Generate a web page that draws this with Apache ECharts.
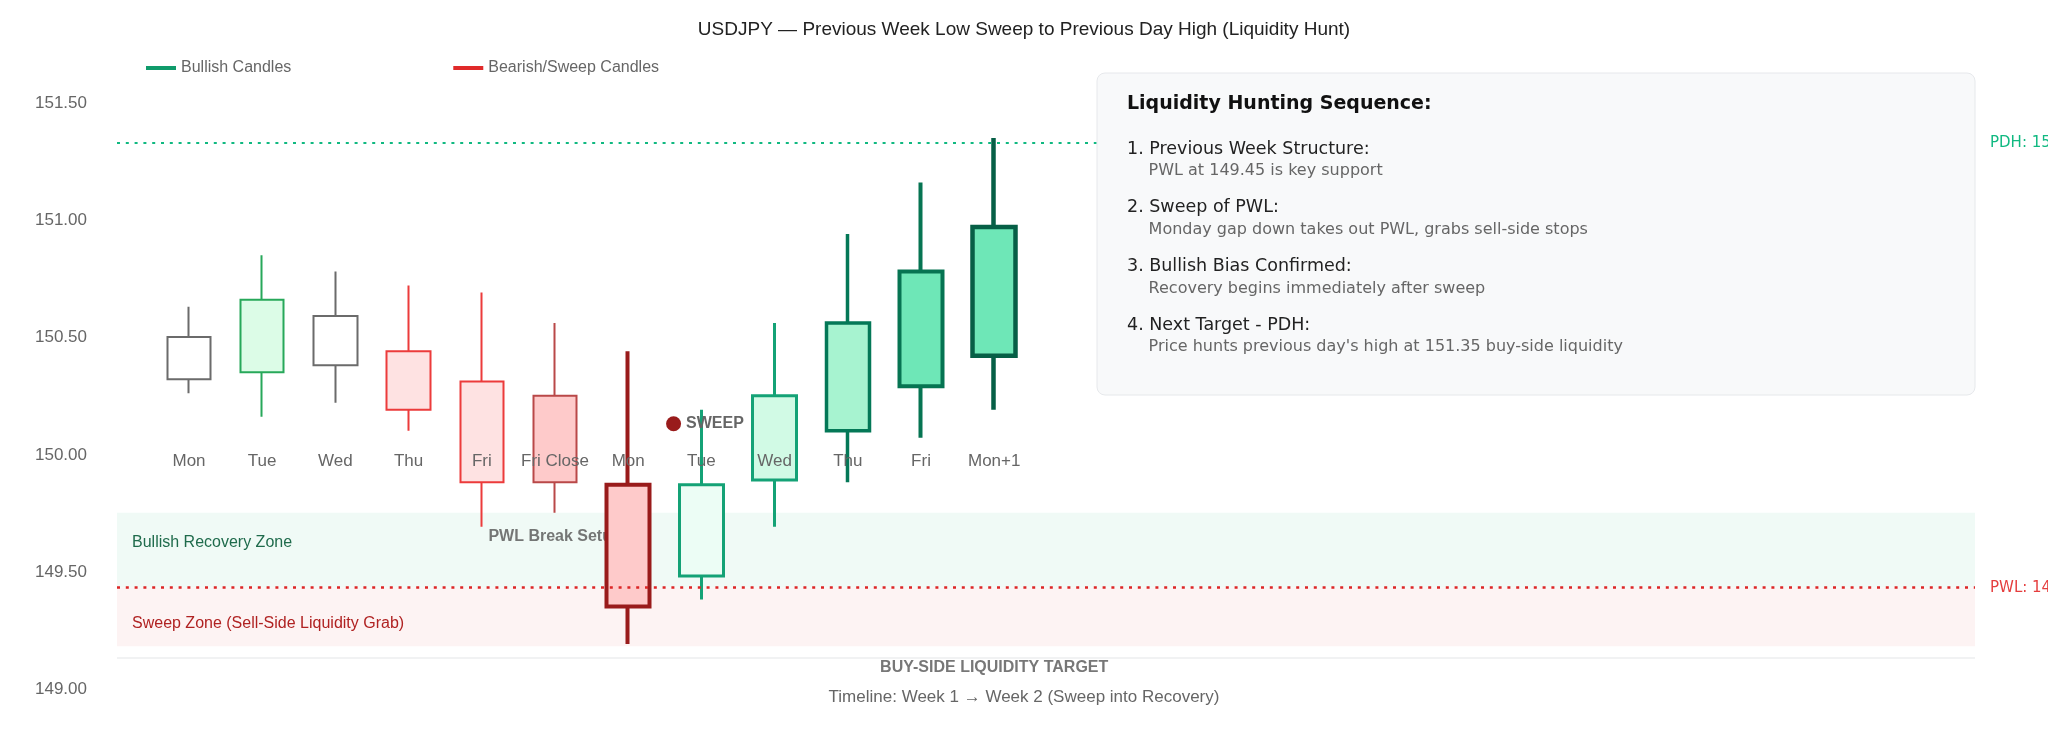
<!DOCTYPE html>
<html>
<head>
<meta charset="utf-8">
<title>USDJPY liquidity hunt</title>
<script src="https://cdn.jsdelivr.net/npm/echarts@6/dist/echarts.min.js"></script>
<style>
  html, body { margin: 0; padding: 0; background: #fff; }
  #chart { width: 2048px; height: 731px; }
</style>
</head>
<body>
<div id="chart"></div>
<script>
// candles
var categories = ['Mon', 'Tue', 'Wed', 'Thu', 'Fri', 'Fri Close', 'Mon', 'Tue', 'Wed', 'Thu', 'Fri', 'Mon+1'];
var opens  = [150.34, 150.37, 150.40, 150.46, 150.33, 150.27, 149.89, 149.50, 149.91, 150.12, 150.31, 150.44];
var closes = [150.52, 150.68, 150.61, 150.21, 149.90, 149.90, 149.37, 149.89, 150.27, 150.58, 150.80, 150.99];
var lows   = [150.28, 150.18, 150.24, 150.12, 149.71, 149.77, 149.21, 149.40, 149.71, 149.90, 150.09, 150.21];
var highs  = [150.65, 150.87, 150.80, 150.74, 150.71, 150.58, 150.46, 150.21, 150.58, 150.96, 151.18, 151.37];
// which group each candle belongs to
var groups = ['neutral', 'bull', 'neutral', 'bear', 'bear', 'bear', 'bear', 'bull', 'bull', 'bull', 'bull', 'bull'];

var yTicks = [149.0, 151.5];
var pdh = 151.35;
var pwl = 149.45;
var recoveryZone = [149.45, 149.77];
var sweepZone = [149.20, 149.45];
var baseLine = 149.15;

// annotations: [x (category index), price, text]
var sweepPoint = [6.62, 150.15, 'SWEEP'];
var notes = [
  [4.09, 149.67, 'PWL Break Setup'],
  [11, 149.11, 'BUY-SIDE LIQUIDITY TARGET']
];

var steps = [
  ['1. Previous Week Structure:', 'PWL at 149.45 is key support'],
  ['2. Sweep of PWL:', 'Monday gap down takes out PWL, grabs sell-side stops'],
  ['3. Bullish Bias Confirmed:', 'Recovery begins immediately after sweep'],
  ['4. Next Target - PDH:', "Price hunts previous day's high at 151.35 buy-side liquidity"]
];

// look of each candle (border, fill, width)
var candleStyles = [
  ['#6b6b6b', '#ffffff', 2],
  ['#27a85a', '#dcfce7', 2],
  ['#6b6b6b', '#ffffff', 2],
  ['#ec3b3b', '#fee2e2', 2],
  ['#ec3b3b', '#fee2e2', 2],
  ['#b94848', '#fecaca', 2],
  ['#991b1b', '#fecaca', 4],
  ['#14a276', '#ecfdf5', 3],
  ['#14a276', '#d1fae5', 3],
  ['#047857', '#a7f3d0', 3.5],
  ['#067452', '#6ee7b7', 4],
  ['#065f46', '#6ee7b7', 4.5]
];

var FONT = 'Liberation Sans';
var BOX_FONT = 'DejaVu Sans';

function candleData(group) {
  return categories.map(function (c, i) {
    if (groups[i] !== group) return '-';
    var s = candleStyles[i];
    return {
      value: [opens[i], closes[i], lows[i], highs[i]],
      itemStyle: {
        color: s[1], color0: s[1],
        borderColor: s[0], borderColor0: s[0],
        borderWidth: s[2]
      }
    };
  });
}

var gridTop = 107.6, gridBottom = 37.9;

var boxX = 1097, boxY = 73;
var boxEls = [{
  type: 'rect', z: 100,
  shape: { x: boxX, y: boxY, width: 878, height: 322, r: 8 },
  style: { fill: '#f8f9fa', stroke: '#e6e8eb', lineWidth: 1 }
}, {
  type: 'text', z: 101, x: boxX + 30, y: 104,
  style: { text: 'Liquidity Hunting Sequence:', fill: '#111', font: 'bold 19px "' + BOX_FONT + '"', verticalAlign: 'middle' }
}];
steps.forEach(function (s, i) {
  boxEls.push({
    type: 'text', z: 101, x: boxX + 30, y: 149 + i * 58.7,
    style: { text: s[0], fill: '#222', font: '17.5px "' + BOX_FONT + '"', verticalAlign: 'middle' }
  });
  boxEls.push({
    type: 'text', z: 101, x: boxX + 51.6, y: 171 + i * 58.7,
    style: { text: s[1], fill: '#666', font: '16px "' + BOX_FONT + '"', verticalAlign: 'middle' }
  });
});

var chart = echarts.init(document.getElementById('chart'));

var option = {
  animation: false,
  textStyle: { fontFamily: FONT },
  title: [{
    text: 'USDJPY \u2014 Previous Week Low Sweep to Previous Day High (Liquidity Hunt)',
    left: 'center', top: 15.5,
    textStyle: { fontSize: 19, fontWeight: 'normal', color: '#222', fontFamily: FONT }
  }, {
    text: 'Timeline: Week 1 \u2192 Week 2 (Sweep into Recovery)',
    left: 'center', top: 684,
    textStyle: { fontSize: 17, fontWeight: 'normal', color: '#666', fontFamily: FONT }
  }],
  legend: {
    left: 141, top: 55,
    itemGap: 162, itemWidth: 30, itemHeight: 4,
    icon: 'rect',
    textStyle: { fontSize: 16, color: '#666', fontFamily: FONT },
    data: [
      { name: 'Bullish Candles', itemStyle: { color: '#0f9b6b', borderWidth: 0 } },
      { name: 'Bearish/Sweep Candles', itemStyle: { color: '#e02a2a', borderWidth: 0 } }
    ]
  },
  grid: [
    { left: 117, right: 73, top: gridTop, bottom: gridBottom },
    { left: 152.4, right: 1017.2, top: gridTop, bottom: gridBottom }
  ],
  xAxis: [
    { gridIndex: 0, type: 'value', min: 0, max: 1, show: false },
    {
      gridIndex: 1, type: 'category', data: categories, z: 5,
      axisLine: { show: false }, axisTick: { show: false },
      axisLabel: { margin: -240, fontSize: 17, color: '#666', fontFamily: FONT, interval: 0 }
    },
    { gridIndex: 1, type: 'value', min: -0.5, max: 11.5, show: false }
  ],
  yAxis: [
    {
      gridIndex: 0, type: 'value', min: yTicks[0], max: yTicks[1], interval: 0.5,
      axisLine: { show: false }, axisTick: { show: false }, splitLine: { show: false },
      axisLabel: { margin: 30, fontSize: 17, color: '#666', fontFamily: FONT,
        verticalAlign: 'bottom', lineHeight: 8,
        formatter: function (v) { return v.toFixed(2); } }
    },
    { gridIndex: 1, type: 'value', min: yTicks[0], max: yTicks[1], show: false }
  ],
  series: [
    {
      name: 'levels', type: 'line', xAxisIndex: 0, yAxisIndex: 0, data: [], z: 1,
      markArea: {
        silent: true,
        data: [
          [{ yAxis: recoveryZone[1], itemStyle: { color: '#f0faf6' },
             label: { show: true, position: [15, 30], align: 'left', verticalAlign: 'middle',
               formatter: 'Bullish Recovery Zone', color: '#1f6b4c', fontSize: 16, fontFamily: FONT } },
           { yAxis: recoveryZone[0] }],
          [{ yAxis: sweepZone[1], itemStyle: { color: '#fdf3f3' },
             label: { show: true, position: [15, 36], align: 'left', verticalAlign: 'middle',
               formatter: 'Sweep Zone (Sell-Side Liquidity Grab)', color: '#b02222', fontSize: 16, fontFamily: FONT } },
           { yAxis: sweepZone[0] }]
        ]
      },
      markLine: {
        silent: true, symbol: 'none',
        data: [
          { yAxis: pdh, lineStyle: { color: '#10b981', width: 2.2, type: [3, 5.8] },
            label: { show: true, position: 'end', distance: 15, formatter: 'PDH: 151.35',
              color: '#10b981', fontSize: 15, fontFamily: BOX_FONT } },
          { yAxis: pwl, lineStyle: { color: '#dc2626', width: 2.6, type: [3, 5.8] },
            label: { show: true, position: 'end', distance: 15, formatter: 'PWL: 149.45',
              color: '#e53e3e', fontSize: 15, fontFamily: BOX_FONT } },
          { yAxis: baseLine, lineStyle: { color: '#f1f2f3', width: 2, type: 'solid' },
            label: { show: false } }
        ]
      }
    },
    {
      name: 'notes', type: 'scatter', xAxisIndex: 2, yAxisIndex: 1, z: 1, silent: true,
      symbolSize: 0,
      data: notes.map(function (n, i) {
        return {
          value: [n[0], n[1]],
          label: {
            show: true, formatter: n[2], position: i === 0 ? 'right' : 'inside', distance: 0,
            fontSize: 16, fontWeight: 'bold', color: '#555', fontFamily: FONT
          }
        };
      })
    },
    {
      name: 'Neutral', type: 'candlestick', xAxisIndex: 1, yAxisIndex: 1,
      barWidth: 44, data: candleData('neutral')
    },
    {
      name: 'Bullish Candles', type: 'candlestick', xAxisIndex: 1, yAxisIndex: 1,
      barWidth: 44, data: candleData('bull')
    },
    {
      name: 'Bearish/Sweep Candles', type: 'candlestick', xAxisIndex: 1, yAxisIndex: 1,
      barWidth: 44, data: candleData('bear')
    },
    {
      name: 'sweep', type: 'scatter', xAxisIndex: 2, yAxisIndex: 1, z: 4, silent: true,
      symbolSize: 15, itemStyle: { color: '#991b1b', opacity: 1 },
      data: [[sweepPoint[0], sweepPoint[1]]],
      label: { show: true, position: 'right', distance: 5, formatter: sweepPoint[2],
        fontSize: 16, fontWeight: 'bold', color: '#666', fontFamily: FONT }
    }
  ],
  graphic: [{ type: 'group', children: boxEls }]
};

chart.setOption(option);
</script>
</body>
</html>
